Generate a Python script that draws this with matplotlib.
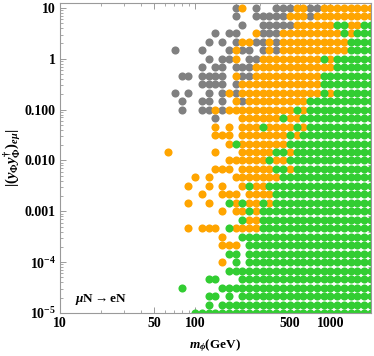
import numpy as np
import matplotlib
matplotlib.use("Agg")
import matplotlib.pyplot as plt
from matplotlib.ticker import FixedLocator, LogLocator, NullFormatter

# ---- data: scan grid ----
# columns: m_phi = 10**(k/20), k = 36..66 ; rows: coupling = 10**(-5 + j/6), j = 0..36
k_cols = list(range(36, 67))
j_rows = list(range(0, 37))
# one string per row (top row j=36 first); '-' none, 'x' excluded (gray),
# 'o' orange, '#' green
grid_rows = [
    "----------xo-x--xxxooxxoooooooo",  # j=36
    "----------x--xxxxxoooxooooooooo",  # j=35
    "-----------x--xxxxxoooooo##oo##",  # j=34
    "-------x-xx--oxxxooooooooo#o###",  # j=33
    "------x-x-xooxxoxoooooooooo####",  # j=32
    "-x---x---xoxx-xoxoooooooooo####",  # j=31
    "------x-xxo-xxooooooooo#o######",  # j=30
    "-----x-xx-xxxoooooooooooo######",  # j=29
    "--xx-xxxx-oxxoooooooooo########",  # j=28
    "-----xxxx-xoooooooooooo########",  # j=27
    "-x-x--x-xoxoooooooooooo#o######",  # j=26
    "--x--xx-x-oxooooooooo##########",  # j=25
    "--x--xxoxoooooooooo#o##########",  # j=24
    "-------x---oooooo#oo###########",  # j=23
    "-------o-o-ooo#oooo#o##########",  # j=22
    "-------ooo-ooooooo#o###########",  # j=21
    "---------o#ooooooo#############",  # j=20
    "o------o---ooooo##o############",  # j=19
    "---------oooooo#oo#############",  # j=18
    "-------ooo-ooooo##o############",  # j=17
    "----o-o---ooooooo##############",  # j=16
    "---o--o-o--o#oo################",  # j=15
    "-----o--ooo-oooo###############",  # j=14
    "---o--o--#o#oo#o###############",  # j=13
    "--------o-oo#o#################",  # j=12
    "-----------#oo#################",  # j=11
    "---o-ooo-#oooo#################",  # j=10
    "--------o--####################",  # j=9
    "--------ooo-###################",  # j=8
    "---------##-###################",  # j=7
    "--------o-#-###################",  # j=6
    "---------######################",  # j=5
    "------##---####################",  # j=4
    "--#-----#######################",  # j=3
    "------##-#-####################",  # j=2
    "------#-#######################",  # j=1
    "----###########################",  # j=0
]
color_map = {"x": "#808080", "o": "#FFA500", "#": "#32CD32"}

x_ticks = [10, 50, 100, 500, 1000]
x_ticklabels = ["10", "50", "100", "500", "1000"]
y_ticks = [1e-5, 1e-4, 1e-3, 1e-2, 1e-1, 1, 10]
y_ticklabels = [r"$\mathbf{10^{-5}}$", r"$\mathbf{10^{-4}}$", "0.001", "0.010", "0.100", "1", "10"]

# ---- styling ----
plt.rcParams["font.family"] = ["Liberation Serif", "DejaVu Serif"]
plt.rcParams["font.weight"] = "bold"
plt.rcParams["mathtext.fontset"] = "custom"
plt.rcParams["mathtext.rm"] = "Liberation Serif:bold"
plt.rcParams["mathtext.bf"] = "Liberation Serif:bold"
plt.rcParams["mathtext.it"] = "Liberation Serif:italic:bold"

fig = plt.figure(figsize=(3.74, 3.56), dpi=100)
ax = fig.add_axes([60 / 374, 1 - 313 / 356, 311 / 374, 310 / 356])

n = len(grid_rows)
for ch, col in color_map.items():
    xs, ys = [], []
    for r, row in enumerate(grid_rows):
        j = j_rows[n - 1 - r]
        for c, s in enumerate(row):
            if s == ch:
                xs.append(10 ** (k_cols[c] / 20))
                ys.append(10 ** (-5 + j / 6))
    ax.scatter(xs, ys, s=34, c=col, linewidths=0, zorder=2)

ax.set_xscale("log")
ax.set_yscale("log")
ax.set_xlim(10, 2000)
ax.set_ylim(1e-5, 12.5)

ax.xaxis.set_major_locator(FixedLocator(x_ticks))
ax.set_xticklabels(x_ticklabels)
ax.xaxis.set_minor_locator(LogLocator(base=10, subs=np.arange(2, 10)))
ax.xaxis.set_minor_formatter(NullFormatter())
ax.yaxis.set_major_locator(FixedLocator(y_ticks))
ax.set_yticklabels(y_ticklabels)
ax.yaxis.set_minor_locator(LogLocator(base=10, subs=np.arange(2, 10), numticks=20))
ax.yaxis.set_minor_formatter(NullFormatter())

fc = "#9a9a9a"
for sp in ax.spines.values():
    sp.set_color(fc)
    sp.set_linewidth(0.8)
ax.tick_params(which="both", direction="in", top=True, right=True, color=fc,
               labelsize=10, pad=3)
ax.tick_params(which="major", length=4, width=0.7)
ax.tick_params(which="minor", length=2, width=0.6)
for lab in ax.get_xticklabels() + ax.get_yticklabels():
    lab.set_fontweight("bold")

ax.set_xlabel(r"$m_{\phi}$(GeV)", fontsize=9.5, fontweight="bold", labelpad=5)
ax.set_ylabel(r"$|(y_{\Phi}y^{\dagger}_{\Phi})_{e\mu}|$", fontsize=10.5, fontweight="bold", labelpad=1)
ax.text(0.048, 0.045, r"$\mu$N$\rightarrow$eN", transform=ax.transAxes,
        fontsize=9.5, fontweight="bold", va="center", ha="left")

fig.savefig("out.png", dpi=100)
